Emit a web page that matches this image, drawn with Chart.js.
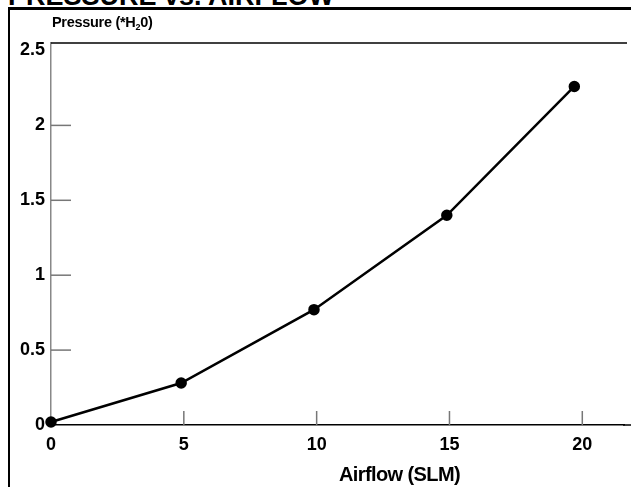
<!DOCTYPE html>
<html>
<head>
<meta charset="utf-8">
<script src="https://cdn.jsdelivr.net/npm/chart.js@4"></script>
<style>
  body { margin: 0; background: #fff; font-family: "Liberation Sans", Arial, sans-serif; }
  #wrap { position: relative; width: 631px; height: 487px; overflow: hidden; }
  #titulo { position: absolute; left: 8px; top: -19px; font-weight: bold; font-size: 27px; line-height: 31px; color: #000; white-space: nowrap; }
  #moldura { position: absolute; left: 8px; top: 7px; width: 640px; height: 500px; border-left: 2px solid #000; border-top: 3px solid #000; }
  #tituloY { position: absolute; left: 52px; top: 14px; font-weight: bold; font-size: 14.5px; color: #000; white-space: nowrap; letter-spacing: -0.3px; }
  #tituloY sub { font-size: 9px; vertical-align: -3px; }
  #tituloX { position: absolute; left: 339px; top: 463px; font-weight: bold; font-size: 20px; color: #000; white-space: nowrap; letter-spacing: -0.6px; }
  canvas { position: absolute; left: 0; top: 0; }
</style>
</head>
<body>
<div id="wrap">
  <div id="titulo">PRESSURE vs. AIRFLOW</div>
  <div id="moldura"></div>
  <canvas id="grafico" width="631" height="487"></canvas>
  <div id="tituloY">Pressure (*H<sub>2</sub>0)</div>
  <div id="tituloX">Airflow (SLM)</div>
</div>
<script>
// dados
const airflow = [0, 4.9, 9.9, 14.9, 19.7];
const pressure = [0.02, 0.28, 0.77, 1.40, 2.26];
const xTicks = [0, 5, 10, 15, 20];
const yTicks = [0, 0.5, 1, 1.5, 2, 2.5];

// marcas dos ticks para dentro + linha de cima
const marcas = {
    id: 'marcas',
    beforeDatasetsDraw(chart) {
        const ctx = chart.ctx;
        const area = chart.chartArea;
        const x = chart.scales.x, y = chart.scales.y;
        ctx.save();
        ctx.strokeStyle = '#777';
        ctx.lineWidth = 1.5;
        xTicks.forEach(v => {
            if (v == 0) return;
            const px = x.getPixelForValue(v);
            ctx.beginPath();
            ctx.moveTo(px, area.bottom);
            ctx.lineTo(px, area.bottom - 14);
            ctx.stroke();
        });
        yTicks.forEach(v => {
            if (v == 0 || v == 2.5) return;
            const py = y.getPixelForValue(v);
            ctx.beginPath();
            ctx.moveTo(area.left, py);
            ctx.lineTo(area.left + 20, py);
            ctx.stroke();
        });
        ctx.strokeStyle = '#000';
        ctx.lineWidth = 1.5;
        ctx.beginPath();
        ctx.moveTo(area.left, area.top);
        ctx.lineTo(627, area.top);
        ctx.stroke();
        // eixo x vai até a borda
        ctx.beginPath();
        ctx.moveTo(area.right - 1, area.bottom);
        ctx.lineTo(631, area.bottom);
        ctx.stroke();
        ctx.restore();
    }
};

const ctx = document.getElementById('grafico').getContext('2d');
window.myChart = new Chart(ctx, {
    type: 'scatter',
    data: {
        datasets: [{
            label: 'Pressure',
            data: airflow.map((a, i) => ({x: a, y: pressure[i]})),
            showLine: true,
            clip: false,
            borderColor: '#000',
            backgroundColor: '#000',
            borderWidth: 2.5,
            pointRadius: 4.5,
            pointHoverRadius: 4.5
        }]
    },
    options: {
        responsive: false,
        animation: false,
        layout: { padding: { top: 43, right: 0, left: 0, bottom: 0 } },
        plugins: { legend: { display: false }, tooltip: { enabled: false } },
        scales: {
            x: {
                type: 'linear',
                min: 0,
                max: 21.57,
                afterFit: s => { s.height = 62; },
                afterBuildTicks: s => { s.ticks = xTicks.map(v => ({value: v})); },
                grid: { display: true, drawOnChartArea: false, drawTicks: false },
                border: { color: '#000', width: 1.5 },
                ticks: {
                    color: '#000',
                    padding: 9,
                    maxRotation: 0,
                    callback: v => String(v),
                    font: { family: 'Liberation Sans', size: 18, weight: 'bold' }
                }
            },
            y: {
                type: 'linear',
                min: 0,
                max: 2.55,
                afterFit: s => { s.width = 51; },
                afterBuildTicks: s => { s.ticks = yTicks.map(v => ({value: v})); },
                grid: { display: true, drawOnChartArea: false, drawTicks: false },
                border: { color: '#888', width: 1.5 },
                ticks: {
                    color: '#000',
                    padding: 6,
                    callback: v => String(v),
                    font: { family: 'Liberation Sans', size: 18, weight: 'bold' }
                }
            }
        }
    },
    plugins: [marcas]
});
</script>
</body>
</html>
